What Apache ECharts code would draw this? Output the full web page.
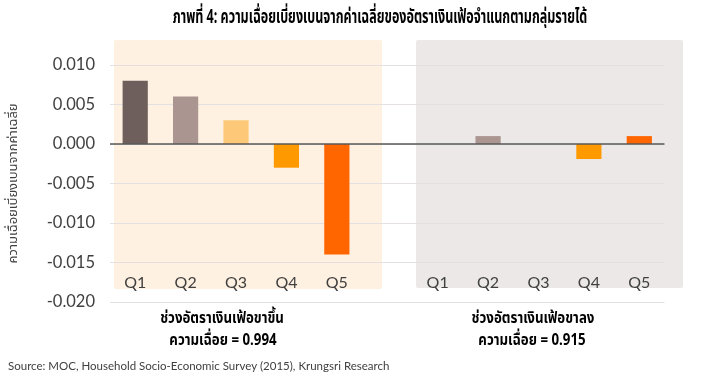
<!DOCTYPE html>
<html>
<head>
<meta charset="utf-8">
<script src="https://cdn.jsdelivr.net/npm/echarts@6/dist/echarts.min.js"></script>
<style>html,body{margin:0;padding:0;background:#fff;}#c{width:701px;height:382px;}</style>
</head>
<body>
<div id="c"></div>
<script>
// Data
const categories = ['Q1','Q2','Q3','Q4','Q5','','Q1','Q2','Q3','Q4','Q5'];
const risingValues = [0.008, 0.006, 0.003, -0.003, -0.014];
const fallingValues = [0, 0.001, 0, -0.0019, 0.001];
const yTicks = [-0.020, -0.015, -0.010, -0.005, 0.000, 0.005, 0.010];
const titleText = 'ภาพที่ 4: ความเฉื่อยเบี่ยงเบนจากค่าเฉลี่ยของอัตราเงินเฟ้อจำแนกตามกลุ่มรายได้';
const yName = 'ความเฉื่อยเบี่ยงเบนจากค่าเฉลี่ย';
const groupLabels = [['ช่วงอัตราเงินเฟ้อขาขึ้น','ความเฉื่อย = 0.994'],['ช่วงอัตราเงินเฟ้อขาลง','ความเฉื่อย = 0.915']];
const sourceText = 'Source: MOC, Household Socio-Economic Survey (2015), Krungsri Research';
const quintileColors = ['#6f5f5c','#aa9590','#fdc877','#ff9900','#ff6600'];

const thaiFont = 'Tahoma, "Noto Sans Thai", "Noto Sans Thai UI", "Noto Sans", sans-serif';
const latin = 'Lato, Carlito, "Open Sans", sans-serif';

const values = [...risingValues, null, ...fallingValues];
const barData = values.map((v, i) => {
  if (v === null) return '-';
  const q = i < 5 ? i : i - 6;
  return { value: v, itemStyle: { color: quintileColors[q] } };
});

function groupText(x, y, text) {
  return { type: 'text', x: x, y: y, scaleX: 0.83, style: { text: text, fontFamily: thaiFont, fontSize: 16, fontWeight: 'bold', fill: '#000', align: 'center', verticalAlign: 'middle' } };
}

const chart = echarts.init(document.getElementById('c'), null, {renderer: 'canvas'});
chart.setOption({
  animation: false,
  backgroundColor: '#fff',
  grid: { left: 110, right: 36.5, top: 65, bottom: 80 },
  xAxis: {
    type: 'category', data: categories, offset: -19,
    axisLine: { show: false }, axisTick: { show: false },
    axisLabel: { fontFamily: latin, fontSize: 16, color: '#404040', margin: 0, verticalAlign: 'middle', lineHeight: 16 },
    splitLine: { show: false }
  },
  yAxis: {
    type: 'value', min: -0.02, max: 0.01, interval: 0.005,
    name: yName, nameLocation: 'middle', nameGap: 89, nameRotate: 90,
    nameTextStyle: { fontFamily: thaiFont, fontSize: 13, color: '#404040' },
    axisLine: { show: false }, axisTick: { show: false },
    axisLabel: { fontFamily: latin, fontSize: 16.5, color: '#404040', margin: 15, formatter: v => v.toFixed(3) },
    splitLine: { lineStyle: { color: '#e3e0df', width: 1 } }
  },
  graphic: [
    { type: 'rect', z: -10, shape: { x: 114, y: 40, width: 268, height: 249, r: 2 }, style: { fill: '#fef1e1' } },
    { type: 'rect', z: -10, shape: { x: 416, y: 40, width: 267, height: 248, r: 2 }, style: { fill: '#ece8e7' } },
    { type: 'text', x: 380, y: 19, scaleX: 0.66, style: { text: titleText, fontFamily: thaiFont, fontSize: 19, fontWeight: 'bold', fill: '#000', align: 'center', verticalAlign: 'middle' } },
    groupText(222, 320, groupLabels[0][0]),
    groupText(223, 342, groupLabels[0][1]),
    groupText(533, 320, groupLabels[1][0]),
    groupText(532, 342, groupLabels[1][1]),
    { type: 'text', x: 8, y: 366, style: { text: sourceText, fontFamily: latin, fontSize: 11.5, fill: '#404040', align: 'left', verticalAlign: 'middle' } }
  ],
  series: [{
    type: 'bar', data: barData, barWidth: '50%', z: 2,
    markLine: {
      silent: true, symbol: 'none', label: { show: false },
      lineStyle: { color: '#595959', width: 1.5, type: 'solid' },
      data: [{ yAxis: 0 }]
    }
  }]
});
</script>
</body>
</html>
